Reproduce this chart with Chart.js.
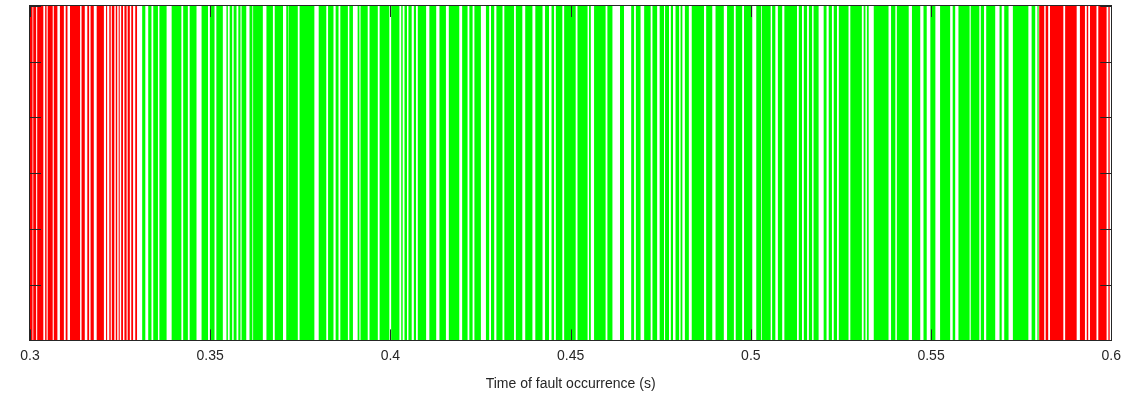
<!DOCTYPE html>
<html>
<head>
<meta charset="utf-8">
<script src="https://cdn.jsdelivr.net/npm/chart.js"></script>
<style>
  html, body { margin: 0; padding: 0; background: #fff; }
  #wrap { width: 1128px; height: 399px; }
</style>
</head>
<body>
<div id="wrap"><canvas id="faultChart" width="1128" height="399"></canvas></div>
<script>
// Fault occurrence times (s), grouped into [start, end] stripes
const redFaults = [
  [0.3000, 0.3007], [0.3009, 0.3017], [0.3020, 0.3037], [0.3042, 0.3046], [0.3049, 0.3063],
  [0.3066, 0.3076], [0.3083, 0.3094], [0.3099, 0.3104], [0.3111, 0.3139], [0.3143, 0.3152],
  [0.3159, 0.3164], [0.3168, 0.3177], [0.3185, 0.3205], [0.3211, 0.3214], [0.3220, 0.3224],
  [0.3227, 0.3234], [0.3238, 0.3242], [0.3246, 0.3249], [0.3253, 0.3258], [0.3262, 0.3268],
  [0.3271, 0.3277], [0.3281, 0.3286], [0.3292, 0.3297],
  [0.5800, 0.5814], [0.5818, 0.5825], [0.5830, 0.5867], [0.5872, 0.5904], [0.5913, 0.5927],
  [0.5932, 0.5936], [0.5941, 0.5959], [0.5964, 0.5987], [0.5992, 0.5996]
];

const greenFaults = [
  [0.3311, 0.3320], [0.3328, 0.3337], [0.3342, 0.3355], [0.3359, 0.3379], [0.3393, 0.3420],
  [0.3425, 0.3438], [0.3443, 0.3462], [0.3476, 0.3494], [0.3499, 0.3512], [0.3517, 0.3535],
  [0.3545, 0.3549], [0.3554, 0.3561], [0.3565, 0.3573], [0.3578, 0.3584], [0.3587, 0.3600],
  [0.3609, 0.3617], [0.3619, 0.3646], [0.3656, 0.3674], [0.3679, 0.3702], [0.3711, 0.3716],
  [0.3718, 0.3743], [0.3748, 0.3789], [0.3801, 0.3822], [0.3827, 0.3842], [0.3848, 0.3856],
  [0.3861, 0.3882], [0.3886, 0.3896], [0.3909, 0.3914], [0.3917, 0.3937], [0.3942, 0.3965],
  [0.3970, 0.3997], [0.4002, 0.4025], [0.4030, 0.4034], [0.4039, 0.4046], [0.4050, 0.4059],
  [0.4065, 0.4071], [0.4076, 0.4099], [0.4108, 0.4127], [0.4136, 0.4154], [0.4162, 0.4191],
  [0.4199, 0.4214], [0.4219, 0.4228], [0.4233, 0.4251], [0.4265, 0.4274], [0.4279, 0.4288],
  [0.4294, 0.4311], [0.4316, 0.4343], [0.4348, 0.4366], [0.4374, 0.4394], [0.4402, 0.4422],
  [0.4429, 0.4440], [0.4447, 0.4454], [0.4459, 0.4477], [0.4482, 0.4514], [0.4519, 0.4547],
  [0.4551, 0.4556], [0.4565, 0.4597], [0.4602, 0.4616], [0.4637, 0.4648], [0.4668, 0.4676],
  [0.4681, 0.4694], [0.4704, 0.4722], [0.4727, 0.4740], [0.4747, 0.4759], [0.4762, 0.4773],
  [0.4778, 0.4784], [0.4791, 0.4801], [0.4805, 0.4810], [0.4817, 0.4828], [0.4836, 0.4870],
  [0.4876, 0.4893], [0.4902, 0.4925], [0.4934, 0.4953], [0.4958, 0.4976], [0.4981, 0.5004],
  [0.5015, 0.5029], [0.5031, 0.5055], [0.5059, 0.5068], [0.5075, 0.5087], [0.5093, 0.5128],
  [0.5133, 0.5142], [0.5147, 0.5156], [0.5161, 0.5170], [0.5174, 0.5188], [0.5202, 0.5210],
  [0.5216, 0.5225], [0.5230, 0.5239], [0.5244, 0.5271], [0.5276, 0.5308], [0.5313, 0.5318],
  [0.5322, 0.5327], [0.5341, 0.5382], [0.5389, 0.5401], [0.5405, 0.5438], [0.5447, 0.5470],
  [0.5479, 0.5488], [0.5498, 0.5512], [0.5525, 0.5553], [0.5560, 0.5567], [0.5576, 0.5607],
  [0.5610, 0.5634], [0.5638, 0.5647], [0.5653, 0.5678], [0.5690, 0.5696], [0.5703, 0.5715],
  [0.5727, 0.5770], [0.5779, 0.5789], [0.5795, 0.5799]
];

const xTicks = [0.3, 0.35, 0.4, 0.45, 0.5, 0.55, 0.6];
const xTickLabels = ['0.3', '0.35', '0.4', '0.45', '0.5', '0.55', '0.6'];
const yTicks = [0, 1, 2, 3, 4, 5, 6];
const markerLevel = 6;
const xTitle = 'Time of fault occurrence (s)';

// each stripe becomes a filled rectangle outline: up at start, across, down at end
function toOutline(spans) {
    const pts = [];
    spans.forEach(([s, e]) => {
        pts.push({ x: s, y: 0 }, { x: s, y: markerLevel }, { x: e, y: markerLevel }, { x: e, y: 0 });
    });
    return pts;
}

const axisColor = '#262626';

// MATLAB style box with inward ticks
const boxTicks = {
    id: 'boxTicks',
    afterDatasetsDraw(chart) {
        const { ctx, chartArea: { left, right, top, bottom }, scales: { x, y } } = chart;
        const len = 11;
        ctx.save();
        ctx.strokeStyle = axisColor;
        ctx.lineWidth = 1;
        ctx.beginPath();
        xTicks.forEach(v => {
            const px = Math.round(x.getPixelForValue(v)) + 0.5;
            ctx.moveTo(px, bottom); ctx.lineTo(px, bottom - len);
            ctx.moveTo(px, top); ctx.lineTo(px, top + len);
        });
        yTicks.forEach(v => {
            const py = Math.round(y.getPixelForValue(v)) + 0.5;
            ctx.moveTo(left, py); ctx.lineTo(left + len, py);
            ctx.moveTo(right, py); ctx.lineTo(right - len, py);
        });
        ctx.stroke();
        ctx.strokeRect(Math.round(left) - 0.5, Math.round(top) - 0.5,
            Math.round(right - left) + 1, Math.round(bottom - top) + 1);
        ctx.restore();
    }
};

new Chart(document.getElementById('faultChart'), {
    type: 'scatter',
    data: {
        datasets: [
            {
                data: toOutline(redFaults),
                showLine: true,
                fill: 'origin',
                backgroundColor: '#ff0000',
                borderColor: 'rgba(0,0,0,0)',
                borderWidth: 0,
                pointRadius: 0,
                tension: 0
            },
            {
                data: toOutline(greenFaults),
                showLine: true,
                fill: 'origin',
                backgroundColor: '#00ff00',
                borderColor: 'rgba(0,0,0,0)',
                borderWidth: 0,
                pointRadius: 0,
                tension: 0
            }
        ]
    },
    options: {
        responsive: false,
        animation: false,
        layout: { padding: { left: 30, right: 12, top: 6, bottom: 6 } },
        plugins: {
            legend: { display: false },
            tooltip: { enabled: false }
        },
        scales: {
            x: {
                type: 'linear',
                min: 0.3,
                max: 0.6,
                afterBuildTicks: axis => { axis.ticks = xTicks.map(v => ({ value: v })); },
                grid: { display: false, drawTicks: false },
                border: { display: false },
                ticks: {
                    color: axisColor,
                    padding: 7,
                    maxRotation: 0,
                    font: { family: 'Liberation Sans, Arial, sans-serif', size: 14 },
                    callback: (v, i) => xTickLabels[i]
                },
                title: {
                    display: true,
                    text: xTitle,
                    color: axisColor,
                    padding: { top: 5, bottom: 0 },
                    font: { family: 'Liberation Sans, Arial, sans-serif', size: 14 }
                }
            },
            y: {
                display: false,
                min: 0,
                max: markerLevel
            }
        }
    },
    plugins: [boxTicks]
});
</script>
</body>
</html>
